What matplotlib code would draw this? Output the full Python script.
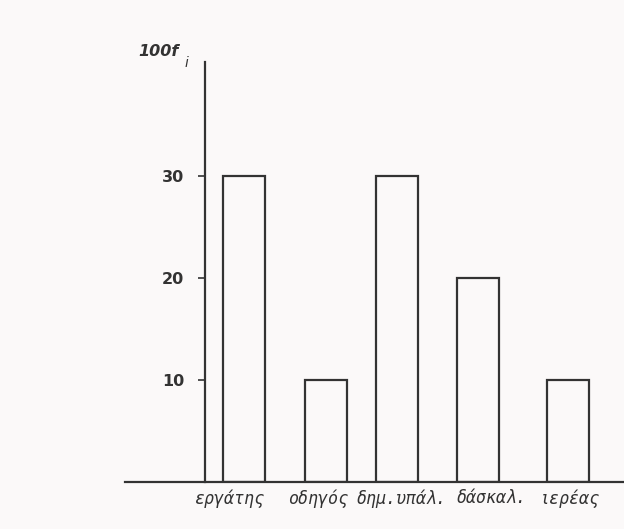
import matplotlib.pyplot as plt

occupations = ['εργάτης', 'οδηγός', 'δημ.υπάλ.', 'δάσκαλ.', 'ιερέας']
freq_100 = [30, 10, 30, 20, 10]
y_ticks = [10, 20, 30]

# layout (bar centres and label centres in axis units)
bar_pos = [0, 1.01, 1.89, 2.89, 4.0]
label_pos = [-0.18, 0.91, 1.94, 3.06, 4.02]

ink = '#333333'
bg = '#fbf9f9'

fig = plt.figure(figsize=(6.24, 5.29), dpi=100, facecolor=bg)
ax = fig.add_axes([0.2003, 0.0889, 0.7997, 0.794])
ax.set_facecolor(bg)

ax.bar(bar_pos, freq_100, width=0.52, facecolor='none', edgecolor=ink, linewidth=1.6)

ax.set_xlim(-1.47, 4.69)
ax.set_ylim(0, 41.2)

for s in ['top', 'right']:
    ax.spines[s].set_visible(False)
ax.spines['left'].set_position(('data', -0.48))
ax.spines['left'].set_color(ink)
ax.spines['left'].set_linewidth(1.6)
ax.spines['bottom'].set_color(ink)
ax.spines['bottom'].set_linewidth(1.6)

ax.set_yticks(y_ticks)
ax.set_yticklabels([str(t) for t in y_ticks], fontsize=11.5, fontweight='bold', color=ink)
ax.tick_params(axis='y', length=5, width=1.2, color=ink, pad=10)
ax.set_xticks([])

for p, lab in zip(label_pos, occupations):
    ax.text(p, -0.7, lab, ha='center', va='top', fontsize=12,
            family='DejaVu Sans Mono', style='italic', color=ink)

fig.text(0.221, 0.902, '100f', fontsize=11.5, fontweight='bold', style='italic',
         color=ink, ha='left', va='center')
fig.text(0.296, 0.880, 'i', fontsize=10, style='italic', color=ink,
         ha='left', va='center')

fig.savefig('out.png', dpi=100, facecolor=bg)
